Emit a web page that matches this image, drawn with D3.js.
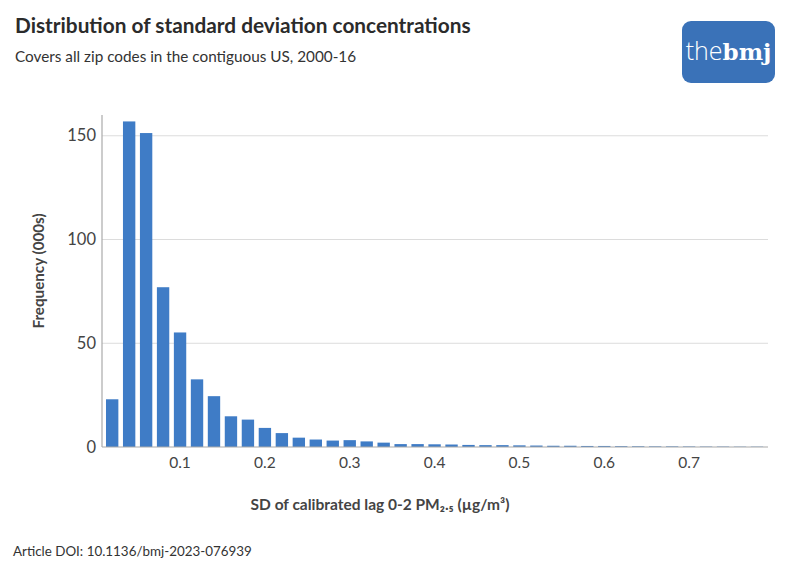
<!DOCTYPE html>
<html>
<head>
<meta charset="utf-8">
<script src="https://cdn.jsdelivr.net/npm/d3@7"></script>
<style>
  body { margin: 0; background: #fff; }
  svg { display: block; }
</style>
</head>
<body>
<svg id="chart" width="796" height="575"></svg>
<script>
// Bin centres (SD of calibrated lag 0-2 PM2.5, µg/m³), bin width 0.02
const binCenters = [0.02,0.04,0.06,0.08,0.10,0.12,0.14,0.16,0.18,0.20,
                    0.22,0.24,0.26,0.28,0.30,0.32,0.34,0.36,0.38,0.40,
                    0.42,0.44,0.46,0.48,0.50,0.52,0.54,0.56,0.58,0.60,
                    0.62,0.64,0.66,0.68,0.70,0.72,0.74,0.76,0.78];
// Frequency (000s)
const frequency = [23.0,156.9,151.3,77.0,55.2,32.6,24.5,14.8,13.2,9.2,
                   6.7,4.5,3.6,3.1,3.3,2.7,2.1,1.4,1.4,1.3,
                   1.2,1.0,0.9,0.9,0.8,0.7,0.6,0.6,0.5,0.5,
                   0.4,0.35,0.3,0.3,0.25,0.2,0.2,0.15,0.15];
const binWidth = 0.02;
const xTicks = [0.1,0.2,0.3,0.4,0.5,0.6,0.7];
const yTicks = [0,50,100,150];

(function () {
const svg = d3.select("#chart");
const mLeft = 102, mRight = 768, mTop = 115, mBottom = 447;

const x = d3.scaleLinear().domain([0.008, 0.793]).range([mLeft, mRight]);
const y = d3.scaleLinear().domain([0, 160]).range([mBottom, mTop]);

const font = "Lato, 'Open Sans', sans-serif";

// Title / subtitle
svg.append("text").attr("x", 15).attr("y", 33)
  .attr("font-family", font).attr("font-weight", 700).attr("font-size", 20.8)
  .attr("fill", "#2b2b2b").text("Distribution of standard deviation concentrations");
svg.append("text").attr("x", 15).attr("y", 62)
  .attr("font-family", font).attr("font-size", 15.3)
  .attr("fill", "#333").text("Covers all zip codes in the contiguous US, 2000-16");

// Logo
const logo = svg.append("g");
logo.append("rect").attr("x", 682).attr("y", 21).attr("width", 93).attr("height", 62)
  .attr("rx", 9).attr("fill", "#3a72b8");
const lt = logo.append("text").attr("x", 728.5).attr("y", 60).attr("text-anchor", "middle")
  .attr("fill", "#fff").attr("font-size", 25);
lt.append("tspan").attr("font-family", "'Open Sans', sans-serif").attr("font-weight", 300).text("the");
lt.append("tspan").attr("font-family", "'DejaVu Serif', serif").attr("font-weight", 700).attr("font-size", 23).text("bmj");

// Gridlines
svg.append("g").selectAll("line").data(yTicks.filter(d => d > 0)).join("line")
  .attr("x1", mLeft).attr("x2", mRight)
  .attr("y1", d => y(d)).attr("y2", d => y(d))
  .attr("stroke", "#dcdcdc").attr("stroke-width", 1);

// Bars
const pad = 2.3;
svg.append("g").selectAll("rect").data(binCenters).join("rect")
  .attr("x", (d) => x(d - binWidth / 2) + pad)
  .attr("width", (d) => x(d + binWidth / 2) - x(d - binWidth / 2) - 2 * pad)
  .attr("y", (d, i) => y(frequency[i]))
  .attr("height", (d, i) => y(0) - y(frequency[i]))
  .attr("fill", "#3f7cc6");

// Axes lines
svg.append("line").attr("x1", mLeft).attr("x2", mLeft).attr("y1", mTop).attr("y2", mBottom)
  .attr("stroke", "#aaa").attr("stroke-width", 1.2);
svg.append("line").attr("x1", mLeft).attr("x2", mRight).attr("y1", mBottom).attr("y2", mBottom)
  .attr("stroke", "#aaa").attr("stroke-width", 1.2);

// Y ticks
svg.append("g").selectAll("text").data(yTicks).join("text")
  .attr("x", 96).attr("y", d => y(d) + 5.5)
  .attr("text-anchor", "end").attr("font-family", font).attr("font-size", 16.5)
  .attr("fill", "#444").text(d => d);

// X ticks
svg.append("g").selectAll("text").data(xTicks).join("text")
  .attr("x", d => x(d)).attr("y", 468)
  .attr("text-anchor", "middle").attr("font-family", font).attr("font-size", 15.5)
  .attr("fill", "#444").text(d => d3.format(".1f")(d));

// Axis titles
svg.append("text").attr("transform", `translate(44,271) rotate(-90)`)
  .attr("text-anchor", "middle").attr("font-family", font).attr("font-weight", 700)
  .attr("font-size", 15.2).attr("fill", "#444").text("Frequency (000s)");
svg.append("text").attr("x", 380).attr("y", 510)
  .attr("text-anchor", "middle").attr("font-family", font).attr("font-weight", 700)
  .attr("font-size", 15.5).attr("fill", "#444").text("SD of calibrated lag 0-2 PM₂.₅ (µg/m³)");

// Footer
svg.append("text").attr("x", 13).attr("y", 556)
  .attr("font-family", font).attr("font-size", 13.4)
  .attr("fill", "#333").text("Article DOI: 10.1136/bmj-2023-076939");
})();
</script>
</body>
</html>
